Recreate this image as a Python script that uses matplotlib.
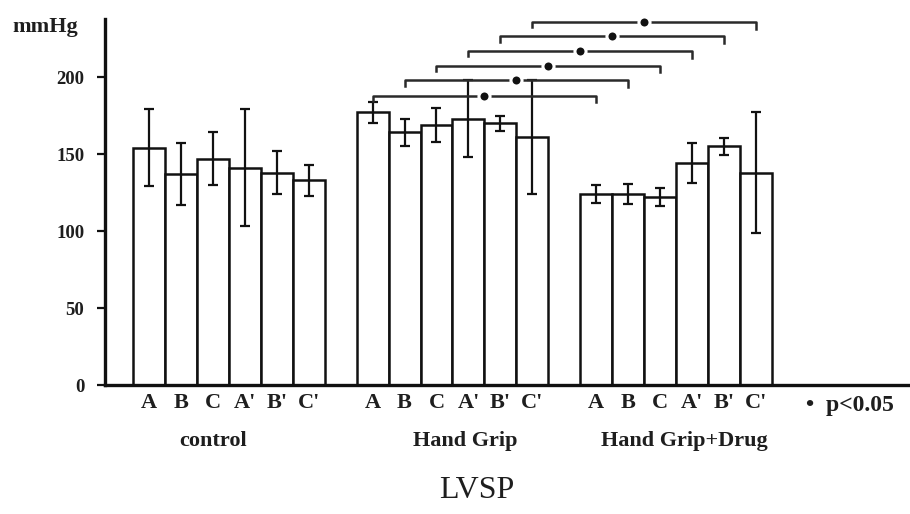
import numpy as np
import matplotlib
matplotlib.use("Agg")
import matplotlib.pyplot as plt
from matplotlib.transforms import blended_transform_factory

plt.rcParams['font.family'] = ['Liberation Serif', 'DejaVu Serif']

# LVSP (mmHg), mean and SD for each stage
stages = ["A", "B", "C", "A'", "B'", "C'"]
groups = ["control", "Hand Grip", "Hand Grip+Drug"]
control_mean = [154, 137, 147, 141, 138, 133]
control_sd = [25, 20, 17, 38, 14, 10]
grip_mean = [177, 164, 169, 173, 170, 161]
grip_sd = [7, 9, 11, 25, 5, 37]
drug_mean = [124, 124, 122, 144, 155, 138]
drug_sd = [6, 6.5, 6, 13, 5.5, 39]
# significance brackets Hand Grip vs Hand Grip+Drug (p<0.05), bracket heights
bracket_heights = [188, 198, 207.5, 217, 226.5, 236]
yticks = [0, 50, 100, 150, 200]

means = [control_mean, grip_mean, drug_mean]
sds = [control_sd, grip_sd, drug_sd]

fig = plt.figure(figsize=(9.1, 5.14), dpi=100)
ax = fig.add_axes([105 / 910, 1 - 385 / 514, 1 - 105 / 910, 366 / 514])

ink = "#111111"
txt = "#1e1e1e"
pos_all = []
for g in range(3):
    pos = np.arange(6) + g * 7
    pos_all.extend(pos)
    ax.bar(pos, means[g], width=1.0, facecolor="white", edgecolor=ink,
           linewidth=1.8, zorder=2)
    ax.errorbar(pos, means[g], yerr=sds[g], fmt="none", ecolor=ink,
                elinewidth=1.6, capsize=3.5, capthick=1.6, zorder=3)

# brackets between matching stages of Hand Grip and Hand Grip+Drug
for i, h in enumerate(bracket_heights):
    x0 = 7 + i
    x1 = 14 + i
    ax.plot([x0, x0, x1, x1], [h - 3.5, h, h, h - 4.5], color="#2a2a2a",
            linewidth=1.8, solid_joinstyle="round", clip_on=False, zorder=4)
    ax.plot((x0 + x1) / 2, h, "o", color=ink, markersize=8,
            markeredgecolor="white", markeredgewidth=2.2, clip_on=False, zorder=5)

ax.set_xlim(-1.375, 23.82)
ax.set_ylim(0, 237.7)
ax.set_yticks(yticks)
ax.set_yticklabels([str(t) for t in yticks], fontsize=13.5, fontweight="bold",
                   color=txt)
ax.set_xticks(pos_all)
ax.set_xticklabels(stages * 3, fontsize=16, fontweight="bold", color=txt)
ax.tick_params(axis="x", length=0, pad=6)
ax.tick_params(axis="y", length=6, width=1.6, pad=9, color=ink)

for side in ["top", "right"]:
    ax.spines[side].set_visible(False)
ax.spines["left"].set_linewidth(2.4)
ax.spines["bottom"].set_linewidth(2.4)
ax.spines["left"].set_color(ink)
ax.spines["bottom"].set_color(ink)

trans = blended_transform_factory(ax.transData, ax.transAxes)
group_label_x = [2.0, 9.9, 16.75]
for name, gx in zip(groups, group_label_x):
    ax.text(gx, -0.152, name, transform=trans, ha="center", va="center",
            fontsize=16, fontweight="bold", color=txt)
ax.text(20.55, -0.057, "\u2022  p<0.05", transform=trans, ha="left", va="center",
        fontsize=17, fontweight="bold", color=txt)

fig.text(12 / 910, 1 - 27 / 514, "mmHg", ha="left", va="center",
         fontsize=16, fontweight="bold", color=txt)
fig.text(477 / 910, 1 - 491 / 514, "LVSP", ha="center", va="center",
         fontsize=23, color=txt)

fig.savefig("out.png", dpi=100)
